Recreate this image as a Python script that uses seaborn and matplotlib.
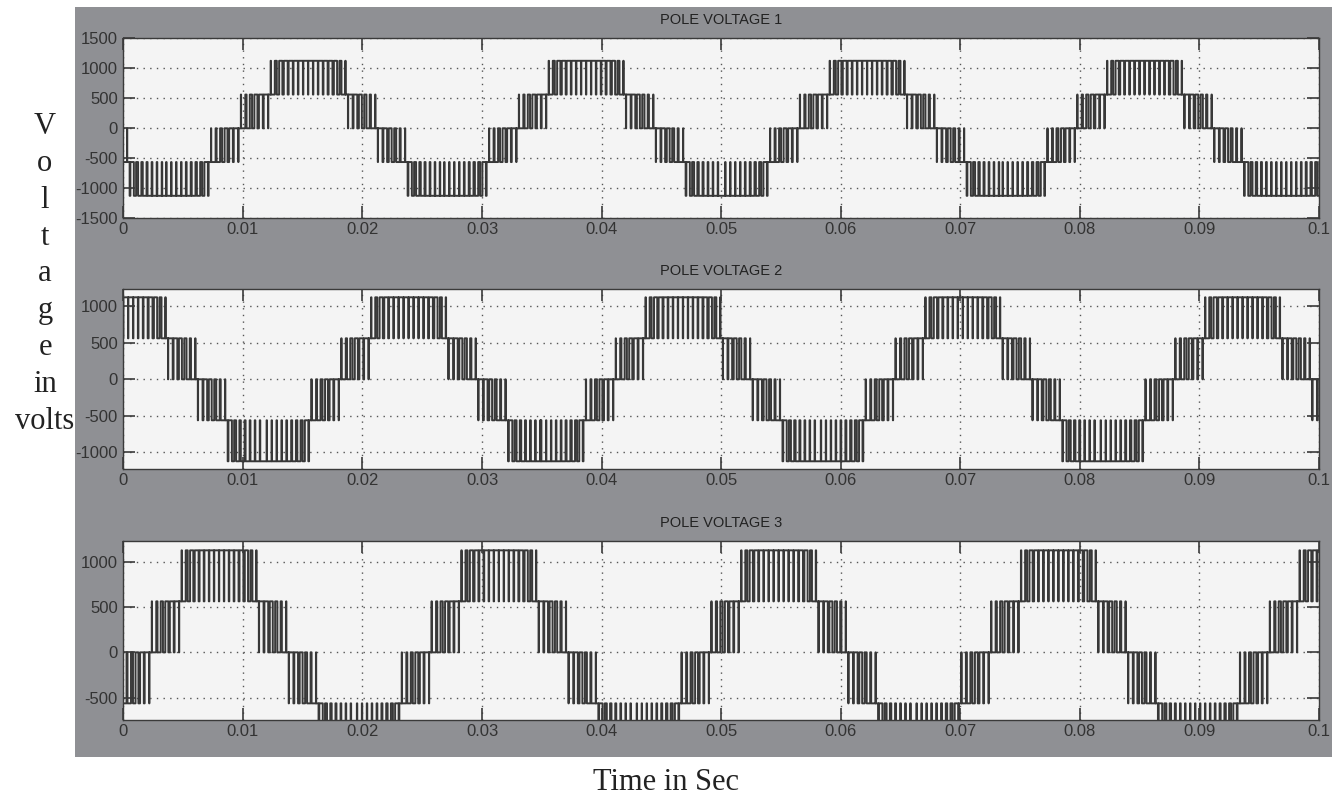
import numpy as np
import pandas as pd
import matplotlib
matplotlib.use("Agg")
import matplotlib.pyplot as plt
from matplotlib.patches import Rectangle
import seaborn as sns

# --- values ---
step_v = 562.5          # one inverter level (V)
period = 0.0233         # fundamental period (s)
slots_per_cycle = 56    # PWM carrier slots in one period

# average level of every carrier slot over one cycle
# (trough centre -> peak -> back to trough), in units of step_v
cycle_levels = [
    -1.92, -1.92, -1.90, -1.88, -1.85, -1.80, -1.72, -1.60, -1.30, -0.95,
    -0.80, -0.60, -0.42, -0.25, -0.10, 0.05, 0.25, 0.45, 0.62, 0.78,
    0.88, 1.08, 1.40, 1.65, 1.78, 1.84, 1.88, 1.90, 1.92,
    1.92, 1.90, 1.88, 1.84, 1.78, 1.65, 1.40, 1.08, 0.90, 0.76,
    0.60, 0.45, 0.25, 0.05, -0.10, -0.25, -0.42, -0.60, -0.80, -0.95,
    -1.30, -1.60, -1.72, -1.80, -1.85, -1.88, -1.90,
]

# centre time of each positive half-wave (s), per pole
peaks_1 = [-0.0080, 0.01525, 0.0385, 0.0620, 0.0852, 0.1085]
peaks_2 = [-0.0231, 0.0002, 0.02365, 0.0466, 0.0700, 0.0934, 0.1167]
peaks_3 = [-0.0155, 0.0078, 0.0312, 0.0546, 0.0780, 0.1013]

titles = ["POLE VOLTAGE 1", "POLE VOLTAGE 2", "POLE VOLTAGE 3"]
ylims = [(-1500, 1500), (-1235, 1235), (-746, 1228)]
yticks = [
    [-1500, -1000, -500, 0, 500, 1000, 1500],
    [-1000, -500, 0, 500, 1000],
    [-500, 0, 500, 1000],
]
xticks = [0, 0.01, 0.02, 0.03, 0.04, 0.05, 0.06, 0.07, 0.08, 0.09, 0.1]
xtick_labels = ["0", "0.01", "0.02", "0.03", "0.04", "0.05",
                "0.06", "0.07", "0.08", "0.09", "0.1"]


def build_wave(peaks):
    tc = period / slots_per_cycle
    t, v = [], []
    for c in peaks:
        for k, lvl in enumerate(cycle_levels):
            mid = c - period / 2 + k * tc
            lo = np.floor(lvl)
            w = (lvl - lo) * tc
            t += [mid - tc / 2, mid - w / 2, mid + w / 2]
            v += [lo, lo + 1, lo]
    # drop points that step back in time where two cycles touch
    keep_t, keep_v = [], []
    for a, b in zip(t, v):
        if not keep_t or a > keep_t[-1]:
            keep_t.append(a)
            keep_v.append(b)
    return pd.DataFrame({"t": keep_t, "v": np.array(keep_v) * step_v})


plt.rcParams["font.family"] = ["Liberation Sans", "DejaVu Sans"]
plt.rcParams["axes.unicode_minus"] = False

fig = plt.figure(figsize=(13.38, 7.98), dpi=100)
W, H = 1338, 798

# grey scope frame behind the axes
frame = Rectangle((74.5 / W, 1 - 757 / H), 1257 / W, 750.5 / H,
                  transform=fig.transFigure, facecolor="#8f9094",
                  edgecolor="none", zorder=-10)
fig.add_artist(frame)

boxes = [(38.3, 218.3), (289.3, 469.3), (541, 720)]
waves = [build_wave(peaks_1), build_wave(peaks_2), build_wave(peaks_3)]

for i, (top, bot) in enumerate(boxes):
    ax = fig.add_axes([123.3 / W, 1 - bot / H, (1319 - 123.3) / W, (bot - top) / H])
    ax.set_zorder(1)
    ax.set_facecolor("#f4f4f4")
    sns.lineplot(data=waves[i], x="t", y="v", ax=ax, estimator=None, sort=False,
                 drawstyle="steps-post", color="#383838", linewidth=1.4)
    ax.set_xlim(0, 0.1)
    ax.set_ylim(*ylims[i])
    ax.set_xticks(xticks)
    ax.set_xticklabels(xtick_labels)
    ax.set_yticks(yticks[i])
    ax.set_xlabel("")
    ax.set_ylabel("")
    ax.grid(True, linestyle=(0, (1, 3.8)), linewidth=1.0, color="#555555")
    ax.tick_params(direction="in", length=8.6, width=1.2, top=True, right=True,
                   color="#3a3a3a", labelcolor="#333333", labelsize=12)
    ax.tick_params(axis="x", pad=3)
    ax.tick_params(axis="y", pad=4)
    for s in ax.spines.values():
        s.set_color("#3a3a3a")
        s.set_linewidth(1.0)
    ax.set_title(titles[i], fontsize=10.5, color="#222222", pad=10)

fig.text(45 / W, 1 - 274 / H, "V\no\nl\nt\na\ng\ne\nin\nvolts", ha="center",
         va="center", ma="center", fontsize=22, linespacing=1.36,
         family="Liberation Serif", color="#222222")
fig.text(666 / W, 1 - 783 / H, "Time in Sec", ha="center", va="center",
         fontsize=22, family="Liberation Serif", color="#222222")

fig.savefig("out.png", dpi=100, facecolor="white")
